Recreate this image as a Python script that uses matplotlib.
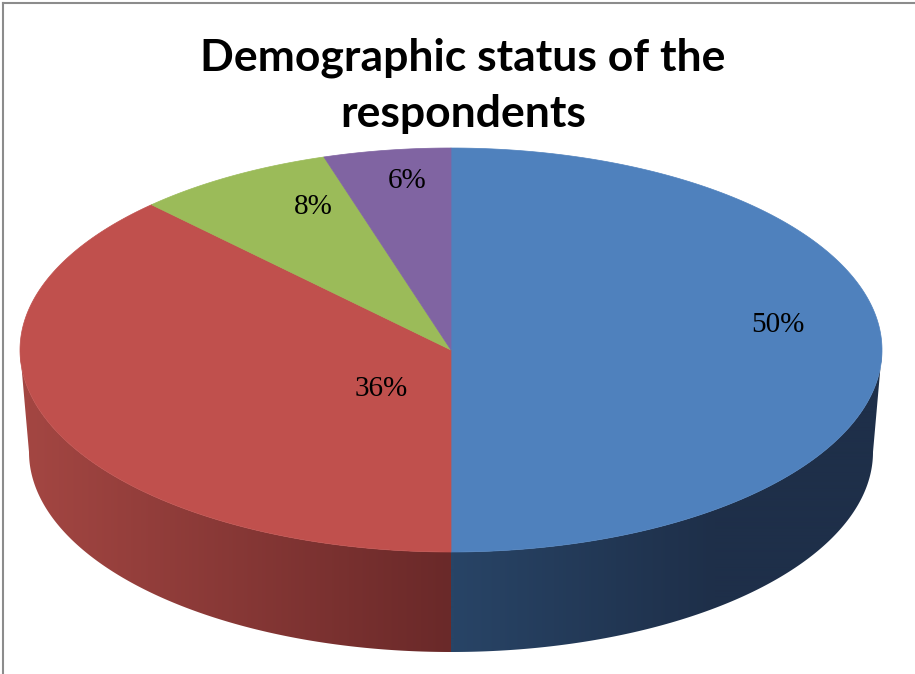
import numpy as np
import matplotlib
matplotlib.use("Agg")
import matplotlib.pyplot as plt
from matplotlib.patches import Polygon

# data
labels = ["50%", "36%", "8%", "6%"]
values = [50, 36, 8, 6]
top_colors = ["#4F81BD", "#C0504D", "#9BBB59", "#8064A2"]
title = "Demographic status of the\nrespondents"

# layout (pixels)
W, H = 915, 674
cx, cy, rx, ry = 451, 350, 431, 202          # top face
cxb, cyb, rxb, ryb = 451, 452, 422, 200      # bottom rim
warp = 6.5                                   # fake perspective squeeze of far side
label_xy = [(778, 325), (381, 389), (313, 207), (407, 181)]

def proj(phi):
    # true angle (deg, clockwise from 12 o'clock) -> displayed ellipse angle
    return phi - warp * np.sin(np.radians(2 * phi))

def top_pt(t):
    t = np.radians(t)
    return cx + rx * np.sin(t), cy - ry * np.cos(t)

def bot_pt(t):
    t = np.radians(t)
    return cxb + rxb * np.sin(t), cyb - ryb * np.cos(t)

def side_gradient(i):
    # horizontal colour ramp for the wall of a slice, one pixel per column
    x = np.arange(W) + 0.5
    if i == 0:
        f = np.clip((x - 455) / 260.0, 0, 1)
        c0, c1 = np.array([40, 68, 102]), np.array([30, 47, 73])
    else:
        f = np.clip((x - 30) / 420.0, 0, 1)
        c0, c1 = np.array([163, 70, 66]), np.array([106, 41, 41])
    row = (c0[None, :] + (c1 - c0)[None, :] * f[:, None]) / 255.0
    return np.repeat(row[None, :, :], 2, axis=0)

fig = plt.figure(figsize=(W / 100, H / 100), dpi=100)
ax = fig.add_axes([0, 0, 1, 1])
ax.set_xlim(0, W)
ax.set_ylim(H, 0)
ax.axis("off")

# frame (only top/left visible in the crop)
ax.plot([3, 3], [H + 5, 3], color="#8c8c8c", lw=1.5)
ax.plot([3, W + 5], [3, 3], color="#8c8c8c", lw=1.5)

bounds = np.concatenate([[0], np.cumsum(values)]) / float(sum(values)) * 360.0

# walls (front half only, t in 90..270)
for i in range(len(values)):
    a0, a1 = proj(bounds[i]), proj(bounds[i + 1])
    lo, hi = max(a0, 90), min(a1, 270)
    if hi <= lo:
        continue
    ts = np.linspace(lo, hi, 200)
    pts = [top_pt(t) for t in ts] + [bot_pt(t) for t in ts[::-1]]
    wall = Polygon(pts, closed=True, facecolor="none", edgecolor="none")
    ax.add_patch(wall)
    im = ax.imshow(side_gradient(i), extent=(0, W, H, 0), aspect="auto",
                   interpolation="bilinear", zorder=1)
    im.set_clip_path(wall)

# top face
for i in range(len(values)):
    ts = np.linspace(proj(bounds[i]), proj(bounds[i + 1]), 200)
    pts = [(cx, cy)] + [top_pt(t) for t in ts]
    ax.add_patch(Polygon(pts, closed=True, facecolor=top_colors[i],
                         edgecolor=top_colors[i], lw=0.5, zorder=2))

ax.set_xlim(0, W)
ax.set_ylim(H, 0)

for lab, (x, y) in zip(labels, label_xy):
    ax.text(x, y, lab, ha="center", va="center", fontsize=21,
            family=["Liberation Serif", "DejaVu Serif"], color="black", zorder=3)

ax.text(463, 86, title, ha="center", va="center", fontsize=32,
        fontweight="bold", family=["Lato", "DejaVu Sans"], linespacing=1.5)

fig.savefig("out.png", dpi=100)
